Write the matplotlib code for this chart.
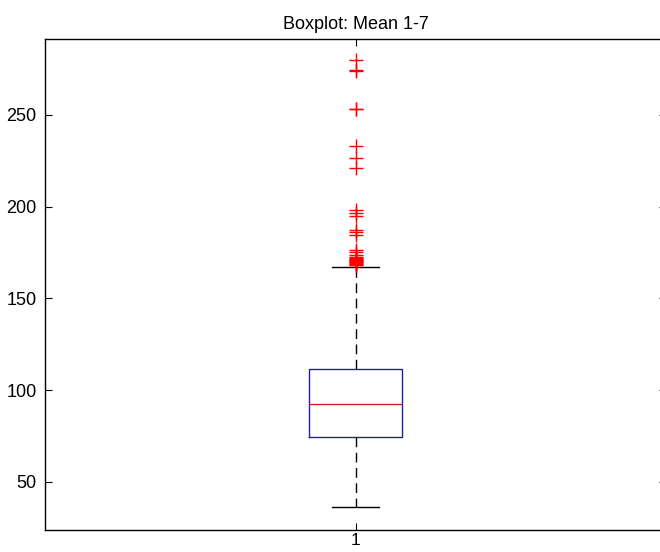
import matplotlib
matplotlib.use('Agg')
from matplotlib import pyplot as plt


# values
labels = ['1']
q1 = [74.7]
median = [92.4]
q3 = [111.6]
whisker_low = [36.5]
whisker_high = [167.2]
outliers = [279.7, 274.5, 273.8, 253.5, 253.0, 233.2, 226.8, 221.0,
            198.3, 196.5, 194.7, 187.4, 186.1, 184.7, 176.5, 175.1, 173.8,
            172.5, 172.0, 171.6, 171.2, 170.8, 170.4, 170.0, 169.6, 169.2,
            168.8, 168.4, 168.0]

stats = [{
    'label': labels[i],
    'q1': q1[i],
    'med': median[i],
    'q3': q3[i],
    'whislo': whisker_low[i],
    'whishi': whisker_high[i],
    'fliers': outliers,
} for i in range(len(labels))]

plt.rcParams['font.family'] = ['Liberation Sans', 'DejaVu Sans']

fig = plt.figure(figsize=(6.6, 5.52), dpi=100)
ax = fig.add_axes([45 / 660, 22 / 552, 621 / 660, 491 / 552])

ax.bxp(stats, positions=[1], widths=0.15, capwidths=0.077,
       boxprops={'color': '#2020a0', 'linewidth': 1.0},
       medianprops={'color': '#e02020', 'linewidth': 1.0},
       whiskerprops={'color': 'black', 'linewidth': 1.0, 'linestyle': (0, (7, 4))},
       capprops={'color': 'black', 'linewidth': 1.0},
       flierprops={'marker': '+', 'markeredgecolor': 'red', 'markersize': 10,
                   'markeredgewidth': 1.0, 'linestyle': 'none'})

ax.set_xlim(0.5, 1.5)
ax.set_ylim(23.8, 291.4)
ax.set_yticks([50, 100, 150, 200, 250])
ax.set_xticks([1])
ax.set_xticklabels(labels)
ax.tick_params(direction='in', length=5, top=True, right=True, labelsize=13)
ax.tick_params(axis='y', pad=6)
ax.tick_params(axis='x', pad=2, labelsize=12.5)
for s in ax.spines.values():
    s.set_linewidth(1.0)
ax.set_title('Boxplot: Mean 1-7', fontsize=13, pad=7)

fig.savefig('out.png', dpi=100)
